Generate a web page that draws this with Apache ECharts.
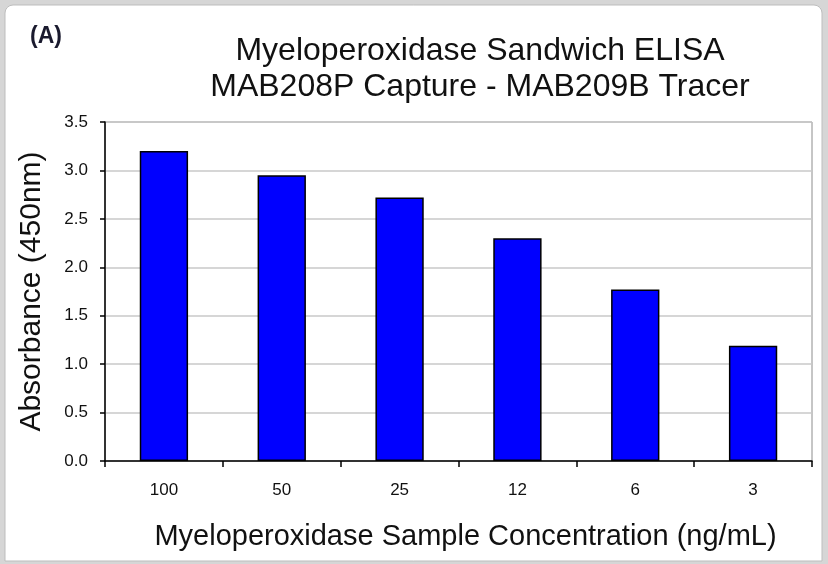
<!DOCTYPE html>
<html>
<head>
<meta charset="utf-8">
<script src="https://cdn.jsdelivr.net/npm/echarts@6/dist/echarts.min.js"></script>
<style>
  html, body { margin: 0; padding: 0; background: #d6d6d6; }
  #chart { width: 828px; height: 564px; }
</style>
</head>
<body>
<div id="chart"></div>
<script>
// concentrations (ng/mL) and absorbance
const concentrations = ["100", "50", "25", "12", "6", "3"];
const absorbance = [3.20, 2.95, 2.72, 2.30, 1.77, 1.19];
const titleLines = ["Myeloperoxidase Sandwich ELISA", "MAB208P Capture - MAB209B Tracer"];

const FONT = "Liberation Sans, Arial, sans-serif";

const chart = echarts.init(document.getElementById("chart"));

chart.setOption({
  backgroundColor: "#d6d6d6",
  animation: false,
  graphic: [
    {
      type: "rect",
      z: -10,
      shape: { x: 5, y: 5, width: 817, height: 556, r: [8, 8, 0, 0] },
      style: { fill: "#ffffff", stroke: "#bdbdbd", lineWidth: 1 },
    },
    {
      type: "rect",
      z: -5,
      shape: { x: 105, y: 122, width: 707, height: 339 },
      style: { fill: "none", stroke: "#8c8c8c", lineWidth: 1 },
    },
    {
      type: "text",
      left: 30,
      top: 25,
      style: { text: "(A)", font: "bold 23px " + FONT, fill: "#1a1a2e" },
    },
  ],
  title: {
    text: titleLines.join("\n"),
    left: 475,
    top: 28,
    textAlign: "center",
    textStyle: {
      fontFamily: FONT,
      fontSize: 32,
      fontWeight: "normal",
      color: "#111111",
      lineHeight: 36,
    },
  },
  grid: {
    left: 105,
    right: 16,
    top: 122,
    bottom: 103,
    outerBoundsMode: "none",
  },
  xAxis: {
    type: "category",
    data: concentrations,
    name: "Myeloperoxidase Sample Concentration (ng/mL)",
    nameLocation: "middle",
    nameGap: 61,
    nameTextStyle: { fontFamily: FONT, fontSize: 29, color: "#111111", padding: [0, 0, 0, 14] },
    axisLine: { lineStyle: { color: "#000000", width: 1.5 } },
    axisTick: { show: true, length: 6, inside: false, lineStyle: { color: "#000000", width: 1.5 } },
    axisLabel: { fontFamily: FONT, fontSize: 17, color: "#111111", margin: 21 },
  },
  yAxis: {
    type: "value",
    min: 0,
    max: 3.5,
    interval: 0.5,
    name: "Absorbance (450nm)",
    nameLocation: "middle",
    nameGap: 58,
    nameTextStyle: { fontFamily: FONT, fontSize: 30, color: "#111111" },
    axisLine: { show: true, lineStyle: { color: "#000000", width: 1.5 } },
    axisTick: { show: true, length: 5, lineStyle: { color: "#000000", width: 1.5 } },
    axisLabel: {
      fontFamily: FONT,
      fontSize: 17,
      color: "#111111",
      margin: 17,
      formatter: (v) => v.toFixed(1),
    },
    splitLine: { lineStyle: { color: "#c8c8c8", width: 1.5 } },
  },
  series: [
    {
      type: "bar",
      data: absorbance,
      barWidth: "41%",
      itemStyle: { color: "#0000ff", borderColor: "#000000", borderWidth: 1.5 },
    },
  ],
});
</script>
</body>
</html>
